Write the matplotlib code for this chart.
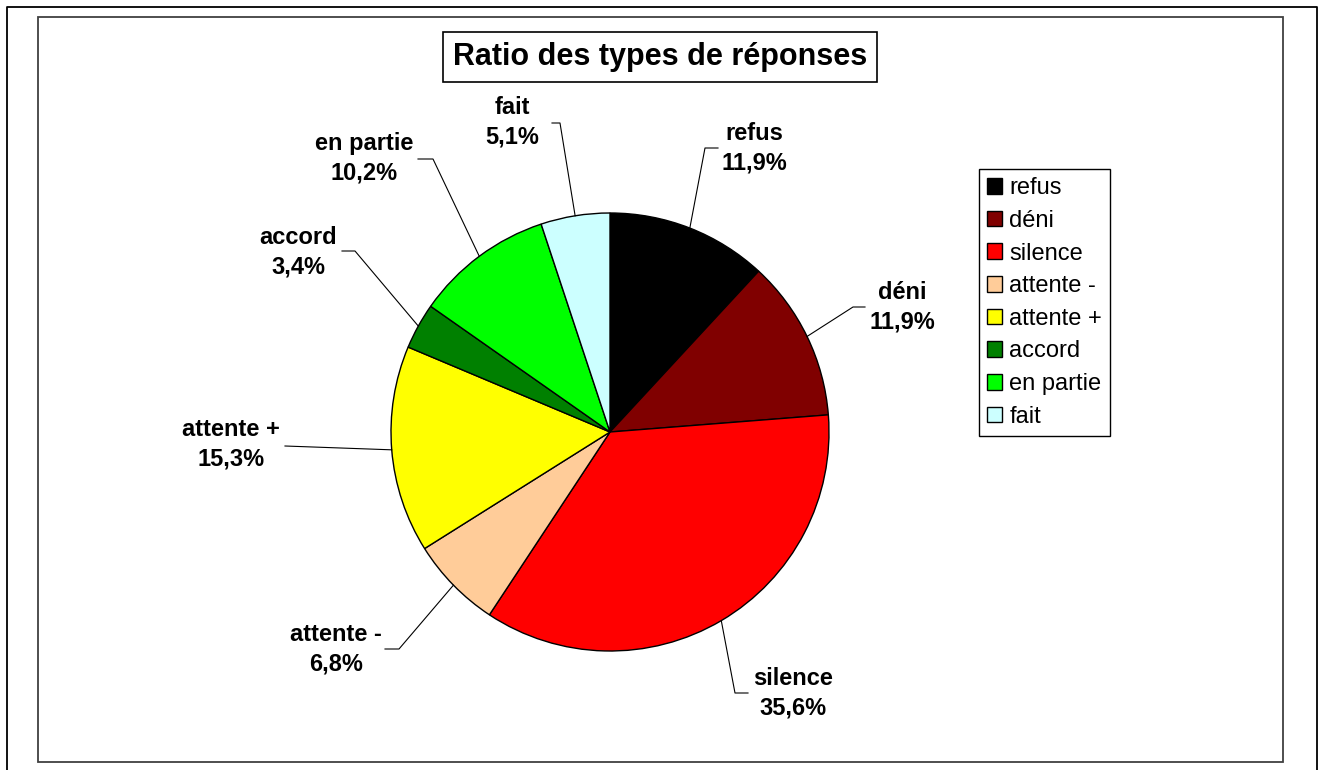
import numpy as np
import matplotlib
matplotlib.use('Agg')
import matplotlib.pyplot as plt
from matplotlib.patches import Rectangle
from matplotlib.lines import Line2D

plt.rcParams['font.family'] = ['Liberation Sans', 'DejaVu Sans']

W, H = 1318, 770

# data
categories = ['refus', 'déni', 'silence', 'attente -', 'attente +', 'accord', 'en partie', 'fait']
percentages = [11.9, 11.9, 35.6, 6.8, 15.3, 3.4, 10.2, 5.1]
colors = ['#000000', '#800000', '#ff0000', '#ffcc99', '#ffff00', '#008000', '#00ff00', '#ccffff']

# label layout in image pixels: text centre, bend of leader, end of stub
label_pos = [(754, 148), (902, 307), (793, 693), (336, 649), (231, 444), (298, 252), (364, 158), (512, 122)]
bend_pos = [(705, 148), (853, 307), (735, 693), (399, 649), (285, 446), (355, 251), (433, 159), (560, 123)]
stub_pos = [(718, 148), (865, 307), (748, 693), (385, 649), (285, 446), (342, 251), (418, 159), (552, 123)]

cx, cy, r = 610, H - 432, 219

fig = plt.figure(figsize=(W / 100, H / 100), dpi=100)
ax = fig.add_axes([0, 0, 1, 1])

wedges, _ = ax.pie(percentages, colors=colors, startangle=90, counterclock=False,
                   center=(cx, cy), radius=r,
                   wedgeprops=dict(edgecolor='black', linewidth=1))
ax.set_xlim(0, W)
ax.set_ylim(0, H)
ax.set_aspect('equal')
ax.axis('off')

# labels + leader lines
for i, w in enumerate(wedges):
    mid = np.deg2rad((w.theta1 + w.theta2) / 2)
    ex, ey = cx + r * np.cos(mid), cy + r * np.sin(mid)
    bx, by = bend_pos[i]
    sx, sy = stub_pos[i]
    ax.plot([ex, bx, sx], [ey, H - by, H - sy], color='black', lw=0.8)
    txt = '%s\n%s%%' % (categories[i], ('%.1f' % percentages[i]).replace('.', ','))
    tx, ty = label_pos[i]
    ax.text(tx, H - ty, txt, ha='center', va='center', fontsize=17, fontweight='bold',
            linespacing=1.35)

# title in a box
ax.text(660, H - 57, 'Ratio des types de réponses', ha='center', va='center',
        fontsize=22, fontweight='bold',
        bbox=dict(boxstyle='square,pad=0.32', facecolor='white', edgecolor='black', linewidth=1.2))

# legend
leg = fig.legend(wedges, categories, loc='upper left',
                 bbox_to_anchor=(979 / W, 1 - 169 / H), borderaxespad=0,
                 fontsize=17, handlelength=0.64, handleheight=0.64, handletextpad=0.3,
                 labelspacing=0.45, borderpad=0.35, fancybox=False, framealpha=1,
                 edgecolor='black')
leg.get_frame().set_linewidth(1)

# chart area frame and outer frame
fig.patches.append(Rectangle((38 / W, 1 - 762 / H), (1283 - 38) / W, (762 - 17) / H,
                             transform=fig.transFigure, fill=False, edgecolor='#404040', linewidth=1.3))
fig.lines.append(Line2D([7 / W, 7 / W, 1317 / W, 1317 / W], [0, 1 - 7 / H, 1 - 7 / H, 0],
                        transform=fig.transFigure, color='black', linewidth=1.3))

fig.savefig('out.png', dpi=100)
